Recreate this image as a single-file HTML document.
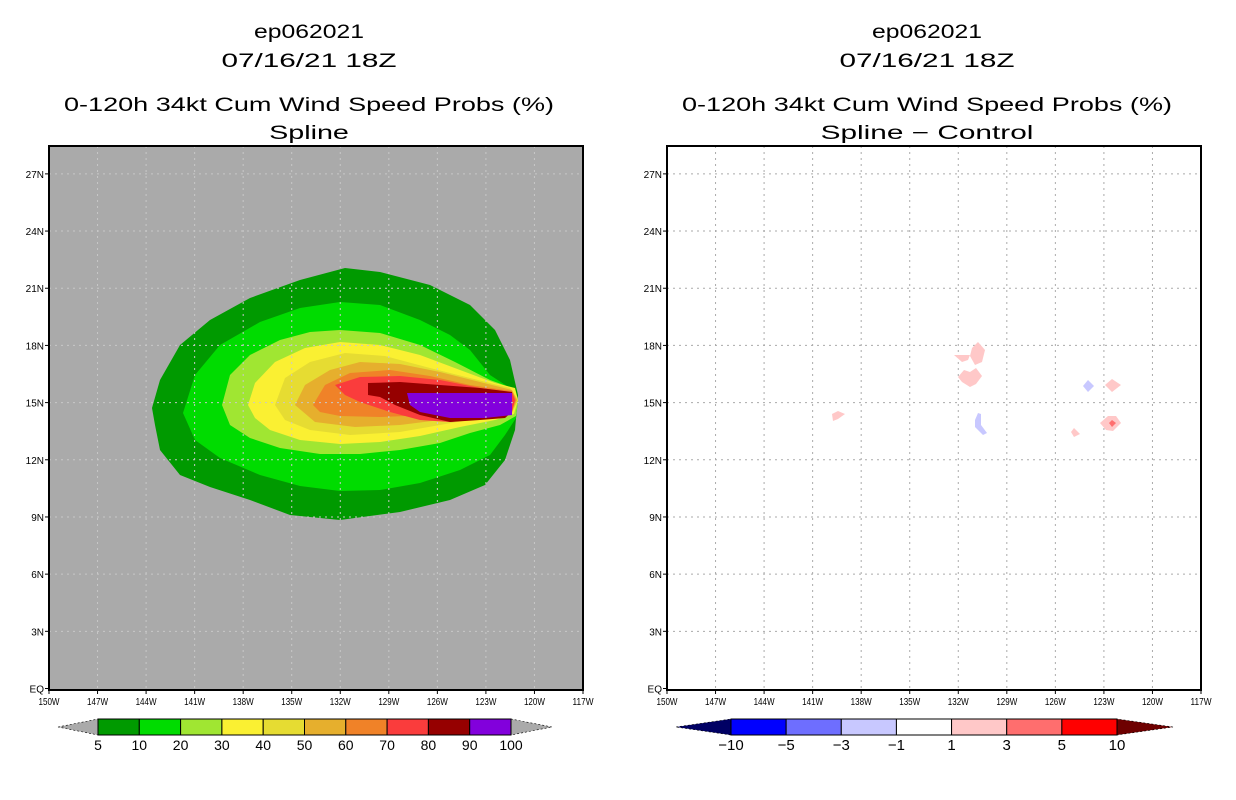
<!DOCTYPE html>
<html><head><meta charset="utf-8">
<style>
html,body{margin:0;padding:0;background:#fff;}
svg{display:block;}
text{font-family:"Liberation Sans",sans-serif;fill:#000;}
</style></head>
<body>
<svg id="chart" width="1236" height="800" viewBox="0 0 1236 800" xmlns="http://www.w3.org/2000/svg">
<g id="left"></g>
<g id="right"></g>
</svg>
<script>
// ---- data ----
const lonTicks = [150,147,144,141,138,135,132,129,126,123,120,117];
const latTicks = [0,3,6,9,12,15,18,21,24,27];
const probLevels = [5,10,20,30,40,50,60,70,80,90,100];
const probColors = ['#009a00','#00dc00','#a0e632','#faf032','#e6dc32','#e6af2d','#f08228','#fa3c3c','#960000','#8200dc'];
const diffLevels = [-10,-5,-3,-1,1,3,5,10];
const diffColors = ['#000064','#0000ff','#6e6eff','#c8c8ff','#ffffff','#ffc8c8','#ff6e6e','#ff0000','#6e0000'];
// contour outlines in pixel-estimated [x,y], converted to lon/lat below
const cPix5 = [[152,408],[160,380],[180,345],[210,320],[250,298],[300,280],[345,268],[380,272],[430,285],[470,305],[495,330],[510,360],[518,395],[515,430],[505,460],[485,485],[450,500],[400,512],[340,520],[290,515],[250,500],[210,487],[180,475],[160,450],[155,425]];
const cPix10 = [[183,413],[195,375],[220,345],[260,322],[300,308],[340,302],[380,305],[420,320],[450,335],[470,350],[490,375],[513,390],[518,400],[516,418],[505,435],[490,455],[460,470],[420,483],[380,490],[340,491],[300,486],[260,475],[220,458],[195,440]];
const cPix20 = [[222,405],[230,375],[250,355],[280,340],[310,332],[340,330],[380,333],[420,345],[455,362],[490,380],[512,388],[518,400],[516,416],[500,425],[470,433],[440,443],[400,450],[360,454],[320,454],[280,448],[250,438],[230,425]];
const cPix30 = [[248,405],[255,383],[275,362],[305,348],[340,342],[380,345],[420,355],[460,370],[495,383],[515,388],[518,400],[514,414],[495,420],[460,427],[420,436],[380,442],[340,444],[300,440],[270,430],[255,418]];
const cPix40 = [[275,405],[285,378],[310,362],[345,353],[385,356],[430,368],[470,378],[510,388],[518,400],[512,413],[480,418],[440,425],[400,432],[350,435],[310,430],[285,420]];
const cPix50 = [[295,405],[305,385],[330,370],[360,362],[400,364],[440,372],[480,382],[512,390],[517,400],[512,412],[480,415],[440,420],[400,425],[355,427],[315,422]];
const cPix60 = [[313,405],[325,385],[350,373],[390,370],[430,376],[470,385],[512,391],[516,400],[512,410],[475,412],[430,415],[380,417],[340,416],[320,412]];
const cPix70 = [[335,385],[360,377],[400,376],[440,380],[480,388],[512,392],[515,400],[512,412],[490,418],[450,422],[420,420],[390,412],[360,402],[345,395]];
const cPix80 = [[368,383],[368,395],[380,397],[395,405],[420,415],[450,422],[480,420],[505,418],[512,412],[512,392],[480,388],[440,385],[400,382]];
const cPix90 = [[407,393],[512,393],[512,415],[485,418],[450,418],[420,412],[410,405]];
const contours = [cPix5,cPix10,cPix20,cPix30,cPix40,cPix50,cPix60,cPix70,cPix80,cPix90];
// difference blobs (pixel estimates relative to right panel origin 667)
const blobPink = [
 [[972,348],[978,342],[985,350],[982,362],[975,365],[970,356]],
 [[954,355],[970,355],[968,360],[962,362]],
 [[958,377],[964,370],[970,372],[976,368],[982,376],[976,384],[970,387],[962,382]],
 [[1105,385],[1112,379],[1121,385],[1112,392]],
 [[832,414],[838,411],[845,414],[838,419],[833,421]],
 [[1100,423],[1108,416],[1116,416],[1121,423],[1113,431],[1106,430]],
 [[1071,432],[1074,428],[1080,434],[1074,437]]
];
const blobBlue = [
 [[1083,386],[1088,380],[1094,386],[1088,392]],
 [[975,420],[978,413],[981,414],[981,425],[987,433],[983,435],[975,427]]
];
const blobRed = [[[1109,423],[1112,420],[1116,423],[1112,427]]];

// ---- axes ----
const PW=534, PT=146, PB=690;
const xs = (ox,lon)=> ox + (150-lon)*PW/33;
const ys = lat => 688.5 - lat*19.06;
const NS='http://www.w3.org/2000/svg';
function mk(tag,attrs,parent){const e=document.createElementNS(NS,tag);for(const k in attrs)e.setAttribute(k,attrs[k]);parent.appendChild(e);return e;}
// convert pixel estimate (left panel origin 49) to lon/lat
const toLL = (p,ox)=>[150-(p[0]-ox)*33/PW, (688.5-p[1])/19.06];
function pts(poly,ox,srcOx){return poly.map(p=>{const ll=toLL(p,srcOx);return xs(ox,ll[0]).toFixed(1)+','+ys(ll[1]).toFixed(1);}).join(' ');}

function titles(g,cx,sub){
  const t=[['ep062021',38,110],['07/16/21 18Z',67,175],['0-120h 34kt Cum Wind Speed Probs (%)',111,490],[sub,139,sub.length*13.3]];
  t.forEach((a,i)=>{const e=mk('text',{x:cx,y:a[1],'text-anchor':'middle','font-size':19,textLength:a[2],lengthAdjust:'spacingAndGlyphs'},g);e.textContent=a[0];
    
    });
}
function frame(g,ox,bg){
  const r=mk('rect',{x:ox,y:PT,width:PW,height:PB-PT,fill:bg},g);
  
  
  return r;
}
function grid(g,ox,col){
  const gg=mk('g',{stroke:col,'stroke-width':1,'stroke-dasharray':'2,4'},g);
  
  
  lonTicks.slice(1,-1).forEach(l=>mk('line',{x1:xs(ox,l),x2:xs(ox,l),y1:PT,y2:PB},gg));
  latTicks.slice(1).forEach(l=>mk('line',{x1:ox,x2:ox+PW,y1:ys(l),y2:ys(l)},gg));
}
function axes(g,ox){
  mk('rect',{x:ox,y:PT,width:PW,height:PB-PT,fill:'none',stroke:'#000','stroke-width':2},g);
  const ax=mk('g',{},g);
  
  
  lonTicks.forEach(l=>{const x=xs(ox,l);mk('line',{x1:x,x2:x,y1:PB,y2:PB+4,stroke:'#000'},ax);
    const t=mk('text',{x:x,y:PB+15,'text-anchor':'middle','font-size':10.5,textLength:21,lengthAdjust:'spacingAndGlyphs'},ax);t.textContent=l+'W';
    
    });
  const ay=mk('g',{},g);
  
  
  latTicks.forEach(l=>{const y=ys(l);mk('line',{x1:ox-4,x2:ox,y1:y,y2:y,stroke:'#000'},ay);
    const s=l===0?'EQ':l+'N';
    const t=mk('text',{x:ox-5,y:y+4,'text-anchor':'end','font-size':10},ay);t.textContent=s;
    
    });
}
function colorbar(g,x0,x1,tipL,tipR,levels,colors,lblSize){
  const cb=mk('g',{},g);
  
  
  const n=levels.length-1, w=(x1-x0)/n, y0=719, y1=735, ym=727;
  mk('polygon',{points:`${tipL},${ym} ${x0},${y0} ${x0},${y1}`,fill:colors[0],stroke:'#000','stroke-width':0.6,'stroke-dasharray':'2,2'},cb);
  mk('polygon',{points:`${tipR},${ym} ${x1},${y0} ${x1},${y1}`,fill:colors[colors.length-1],stroke:'#000','stroke-width':0.6,'stroke-dasharray':'2,2'},cb);
  const inner=colors.length===n+2?colors.slice(1,-1):colors.slice(0,n);
  for(let i=0;i<n;i++){mk('rect',{x:x0+i*w,y:y0,width:w,height:y1-y0,fill:inner[i],stroke:'#000','stroke-width':1},cb);}
  levels.forEach((v,i)=>{const t=mk('text',{x:x0+i*w,y:750,'text-anchor':'middle','font-size':lblSize},cb);t.textContent=String(v).replace('-','\u2212');
    
    });
}

// ---- left panel ----
const L=document.getElementById('left');
titles(L,309,'Spline');
frame(L,49,'#aaaaaa');
contours.forEach((c,i)=>{const p=mk('polygon',{points:pts(c,49,49),fill:probColors[i]},L);
  
  });
grid(L,49,'#c8c8c8');
axes(L,49);
colorbar(L,98,511,58,552,probLevels,['#aaaaaa'].concat(probColors).concat(['#aaaaaa']),14);

// ---- right panel ----
const R=document.getElementById('right');
titles(R,927,'Spline \u2212 Control');
frame(R,667,'#ffffff');
grid(R,667,'#aaaaaa');
[[blobPink,'#ffc8c8','diff-positive'],[blobBlue,'#c8c8ff','diff-negative'],[blobRed,'#ff6e6e','diff-strong-positive']].forEach(b=>{
  b[0].forEach(poly=>{const p=mk('polygon',{points:pts(poly,667,667),fill:b[1]},R);
    
    });
});
axes(R,667);
colorbar(R,731,1117,676,1173,diffLevels,diffColors,15);
</script>
</body></html>
